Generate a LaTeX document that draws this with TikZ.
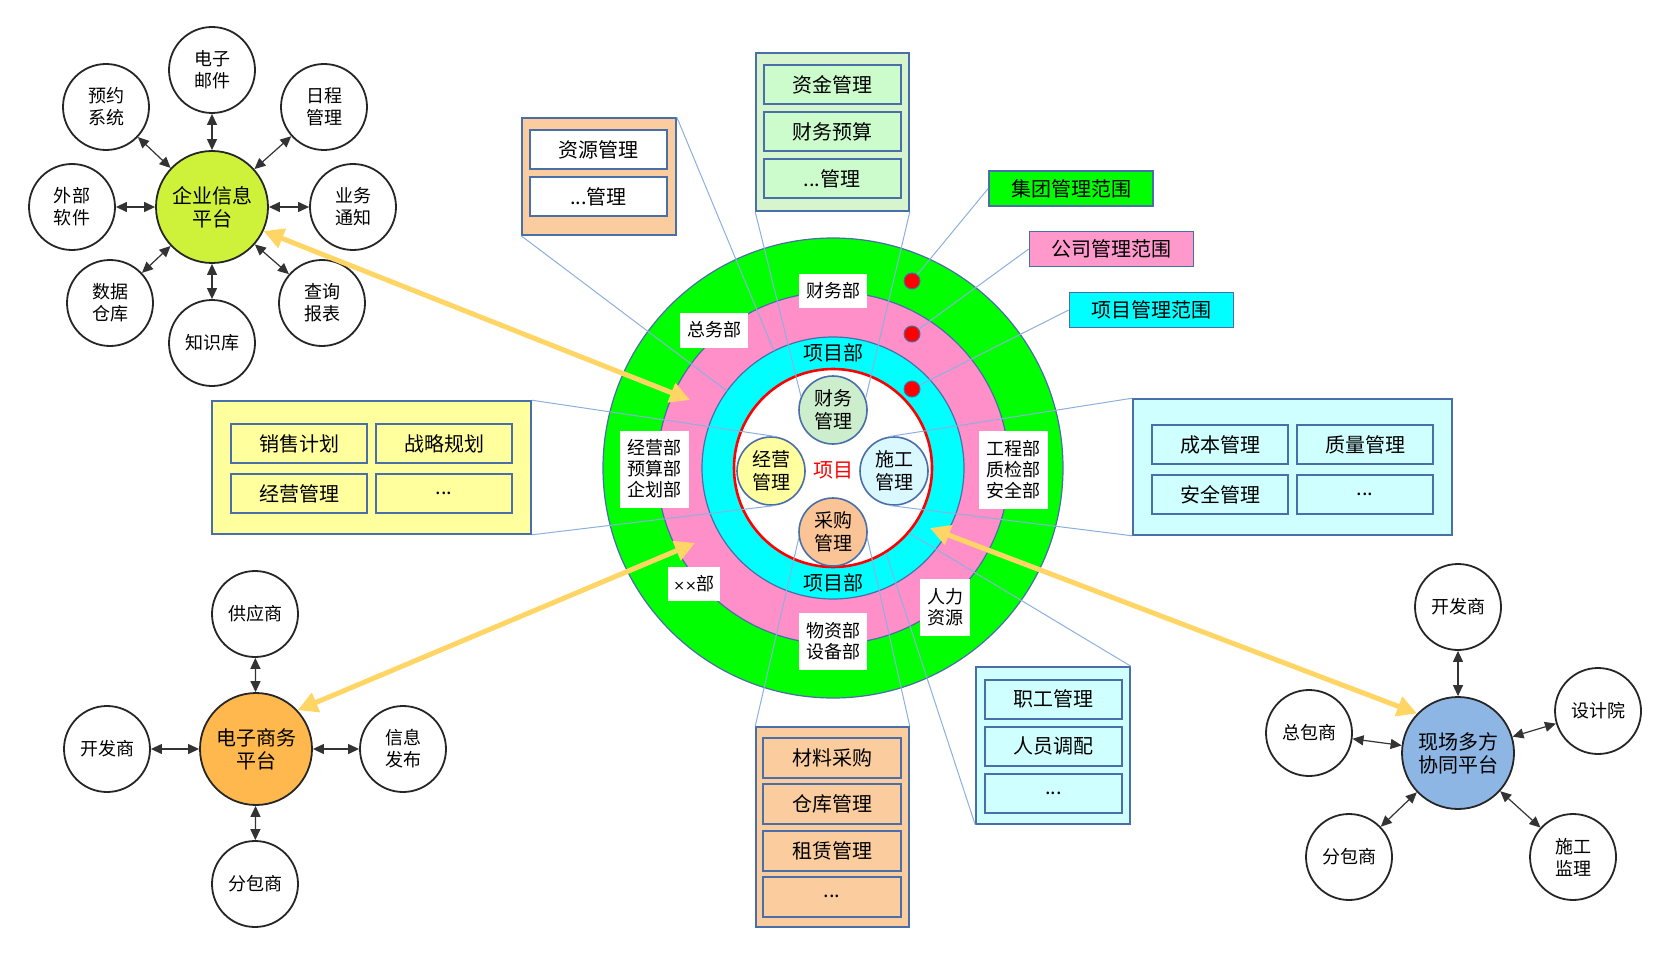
\documentclass[tikz,border=0pt]{standalone}
\usepackage{fontspec}
\setmainfont{Noto Sans CJK SC}
\newfontfamily\latinfont{DejaVu Sans}
\usepackage{xcolor}
\usetikzlibrary{arrows.meta, calc, positioning}

\definecolor{frameblue}{RGB}{74,110,168}
\definecolor{leaderblue}{RGB}{140,176,222}
\definecolor{ringgreen}{RGB}{0,255,0}
\definecolor{ringpink}{RGB}{255,143,200}
\definecolor{legpink}{RGB}{255,153,204}
\definecolor{ringcyan}{RGB}{0,255,255}
\definecolor{boxorange}{RGB}{250,204,158}
\definecolor{boxgreen}{RGB}{214,244,206}
\definecolor{itemgreen}{RGB}{204,252,204}
\definecolor{boxyellow}{RGB}{255,255,158}
\definecolor{boxcyan}{RGB}{208,255,255}
\definecolor{cwfill}{RGB}{204,238,204}
\definecolor{jyfill}{RGB}{255,255,160}
\definecolor{sgfill}{RGB}{218,248,255}
\definecolor{cgfill}{RGB}{250,196,150}
\definecolor{limeplat}{RGB}{206,242,58}
\definecolor{orangeplat}{RGB}{255,184,77}
\definecolor{blueplat}{RGB}{142,182,228}
\definecolor{arrowyellow}{RGB}{255,214,102}

\begin{document}
\begin{tikzpicture}[x=0.5pt, y=-0.5pt,
    sat/.style={circle, draw=black!85, line width=0.9pt, fill=white, minimum size=43pt, inner sep=0pt, align=center, font=\fontsize{9}{11}\selectfont},
    plat/.style={circle, draw=black!85, line width=0.9pt, minimum size=56pt, inner sep=0pt, align=center, font=\fontsize{10}{11.5}\selectfont},
    link/.style={{Triangle[length=5.5pt,width=5pt]}-{Triangle[length=5.5pt,width=5pt]}, draw=black!80, line width=0.6pt},
    flow/.style={{Triangle[length=10pt,width=10pt]}-{Triangle[length=10pt,width=10pt]}, draw=arrowyellow, line width=2.5pt},
    core/.style={circle, draw=frameblue, line width=0.8pt, minimum size=34pt, inner sep=0pt, align=center, font=\fontsize{9.5}{11.5}\selectfont},
    dept/.style={fill=white, inner sep=1pt, align=center, font=\fontsize{9}{10.5}\selectfont},
    dot/.style={circle, fill=red, draw=frameblue, line width=0.5pt, minimum size=8pt, inner sep=0pt},
    panel/.style={draw=frameblue, line width=0.8pt},
    item/.style={draw=frameblue, line width=1pt, minimum width=68.5pt, minimum height=19.5pt, inner sep=0pt, font=\fontsize{10}{12}\selectfont},
    legendbox/.style={draw=frameblue, line width=0.8pt, minimum width=82pt, minimum height=17.5pt, inner sep=0pt, font=\fontsize{10}{12}\selectfont},
    leader/.style={draw=leaderblue, line width=0.5pt}]
    \useasboundingbox (0,0) rectangle (1679,957);

    % management rings
    \coordinate (ctr) at (833,468);
    \filldraw[fill=ringgreen, draw=frameblue, line width=0.6pt] (ctr) circle[radius=115pt];
    \filldraw[fill=ringpink, draw=frameblue, line width=0.6pt] (ctr) circle[radius=88pt];
    \filldraw[fill=ringcyan, draw=frameblue, line width=0.6pt] (ctr) circle[radius=65.5pt];
    \filldraw[fill=white, draw=red, line width=1.3pt] (ctr) circle[radius=49.5pt];

    \node[core, fill=cwfill] (cw) at (833,410) {财务\\管理};
    \node[core, fill=jyfill] (jy) at (771,471) {经营\\管理};
    \node[core, fill=sgfill] (sg) at (894,471) {施工\\管理};
    \node[core, fill=cgfill] (cg) at (833,532) {采购\\管理};
    \node[text=red, font=\fontsize{10}{12}\selectfont] (proj) at (833,470) {项目};

    \node[font=\fontsize{10}{12}\selectfont] (pmtop) at (833,353) {项目部};
    \node[font=\fontsize{10}{12}\selectfont] (pmbot) at (833,583) {项目部};
    \node[dept, minimum width=34pt, minimum height=17pt] (finance) at (833,291) {财务部};
    \node[dept, minimum width=34pt, minimum height=17.5pt] (general) at (714,330) {总务部};
    \node[dept, minimum width=34.5pt, minimum height=38.5pt] (business) at (654,469) {经营部\\预算部\\企划部};
    \node[dept, minimum width=34.5pt, minimum height=39pt] (engineer) at (1013,470) {工程部\\质检部\\安全部};
    \node[dept, minimum width=26pt, minimum height=17pt] (xxdept) at (694,584) {{\latinfont\fontsize{7}{9}\selectfont ××}部};
    \node[dept, minimum width=34pt, minimum height=28.5pt] (material) at (833,641) {物资部\\设备部};
    \node[dept, minimum width=25pt, minimum height=28.5pt] (human) at (945,607) {人力\\资源};

    \node[dot] (dA) at (912,281) {};
    \node[dot] (dB) at (912,334) {};
    \node[dot] (dC) at (912,389) {};

    % scope legend
    \node[legendbox, fill=ringgreen] (lgA) at (1071,188.5) {集团管理范围};
    \node[legendbox, fill=legpink] (lgB) at (1111.5,249) {公司管理范围};
    \node[legendbox, fill=ringcyan] (lgC) at (1151.5,310) {项目管理范围};
    \draw[leader] (lgA.west) -- (dA);
    \draw[leader] (lgB.west) -- (dB);
    \draw[leader] (lgC.west) -- (dC);

    % callout panels
    \node[panel, fill=boxorange, minimum width=77pt, minimum height=58.5pt] (resbox) at (599,176.5) {};
    \node[item, fill=white] (res1) at (598.5,149.5) {资源管理};
    \node[item, fill=white] (res2) at (598.5,196.5) {...管理};

    \node[panel, fill=boxgreen, minimum width=76.5pt, minimum height=79pt] (finbox) at (832.5,132) {};
    \node[item, fill=itemgreen] (fin1) at (832,84.5) {资金管理};
    \node[item, fill=itemgreen] (fin2) at (832,132) {财务预算};
    \node[item, fill=itemgreen] (fin3) at (832,179) {...管理};

    \node[panel, fill=boxyellow, minimum width=159.5pt, minimum height=66.5pt] (yelbox) at (371.5,467.5) {};
    \node[item, fill=boxyellow, minimum width=68pt] (yel1) at (299,443.5) {销售计划};
    \node[item, fill=boxyellow, minimum width=68pt] (yel2) at (444,443.5) {战略规划};
    \node[item, fill=boxyellow, minimum width=68pt] (yel3) at (299,493.5) {经营管理};
    \node[item, fill=boxyellow, minimum width=68pt] (yel4) at (444,493.5) {...};

    \node[panel, fill=boxcyan, minimum width=159.5pt, minimum height=68pt] (cyanbox) at (1292.5,467) {};
    \node[item, fill=boxcyan, minimum width=68pt] (cy1) at (1220,444.5) {成本管理};
    \node[item, fill=boxcyan, minimum width=68pt] (cy2) at (1365,444.5) {质量管理};
    \node[item, fill=boxcyan, minimum width=68pt] (cy3) at (1220,494.5) {安全管理};
    \node[item, fill=boxcyan, minimum width=68pt] (cy4) at (1365,494.5) {...};

    \node[panel, fill=boxorange, minimum width=76.5pt, minimum height=100pt] (matbox) at (832.5,827) {};
    \node[item, fill=boxorange, minimum width=69pt, minimum height=20pt] (mat1) at (832,758) {材料采购};
    \node[item, fill=boxorange, minimum width=69pt, minimum height=20pt] (mat2) at (832,804) {仓库管理};
    \node[item, fill=boxorange, minimum width=69pt, minimum height=20pt] (mat3) at (832,850.5) {租赁管理};
    \node[item, fill=boxorange, minimum width=69pt, minimum height=20pt] (mat4) at (832,896.5) {...};

    \node[panel, fill=boxcyan, minimum width=77pt, minimum height=78.5pt] (staffbox) at (1053,745.5) {};
    \node[item, fill=boxcyan] (st1) at (1053.5,699) {职工管理};
    \node[item, fill=boxcyan] (st2) at (1053.5,746) {人员调配};
    \node[item, fill=boxcyan] (st3) at (1053.5,793) {...};

    % leader lines into the rings
    \coordinate (resA) at (774,351);
    \coordinate (resB) at (727,391);
    \coordinate (staffA) at (909,533);
    \coordinate (staffB) at (886,553);
    \draw[leader] (resbox.north east) -- (resA);
    \draw[leader] (resbox.south west) -- (resB);
    \draw[leader] (finbox.south west) -- (cw.157);
    \draw[leader] (finbox.south east) -- (cw.20);
    \draw[leader] (yelbox.north east) -- (jy.80);
    \draw[leader] (yelbox.south east) -- (jy.275);
    \draw[leader] (cyanbox.north west) -- (sg.100);
    \draw[leader] (cyanbox.south west) -- (sg.265);
    \draw[leader] (matbox.north west) -- (cg.190);
    \draw[leader] (matbox.north east) -- (cg.350);
    \draw[leader] (staffbox.north east) -- (staffA);
    \draw[leader] (staffbox.south west) -- (staffB);

    % enterprise information platform
    \node[plat, fill=limeplat] (ent) at (212,207) {企业信息\\平台};
    \node[sat] (mail) at (212,70) {电子\\邮件};
    \node[sat] (sched) at (324,107) {日程\\管理};
    \node[sat] (notice) at (353,207) {业务\\通知};
    \node[sat] (query) at (322,303) {查询\\报表};
    \node[sat] (know) at (212,343) {知识库};
    \node[sat] (store) at (110,303) {数据\\仓库};
    \node[sat] (ext) at (72,207) {外部\\软件};
    \node[sat] (book) at (106,107) {预约\\系统};
    \foreach \s in {mail,sched,notice,query,know,store,ext,book}
        \draw[link] (ent) -- (\s);

    % e-commerce platform
    \node[plat, fill=orangeplat] (ecom) at (256,749) {电子商务\\平台};
    \node[sat] (supply) at (255,614) {供应商};
    \node[sat] (devA) at (107,749) {开发商};
    \node[sat] (publish) at (403,749) {信息\\发布};
    \node[sat] (subA) at (255,884) {分包商};
    \foreach \s in {supply,devA,publish,subA}
        \draw[link] (ecom) -- (\s);

    % site collaboration platform
    \node[plat, fill=blueplat] (site) at (1458,753) {现场多方\\协同平台};
    \node[sat] (devB) at (1458,607) {开发商};
    \node[sat] (design) at (1598,711) {设计院};
    \node[sat] (contract) at (1309,733) {总包商};
    \node[sat] (subB) at (1349,857) {分包商};
    \node[sat] (super) at (1573,857) {施工\\监理};
    \foreach \s in {devB,design,contract,subB,super}
        \draw[link] (site) -- (\s);

    % platform to ring arrows
    \coordinate (tipA) at (690,400);
    \coordinate (tipB) at (695,543);
    \coordinate (tipC) at (930,528);
    \draw[flow] (ent.-25) -- (tipA);
    \draw[flow] (ecom.43) -- (tipB);
    \draw[flow] (site.136) -- (tipC);
\end{tikzpicture}
\end{document}
